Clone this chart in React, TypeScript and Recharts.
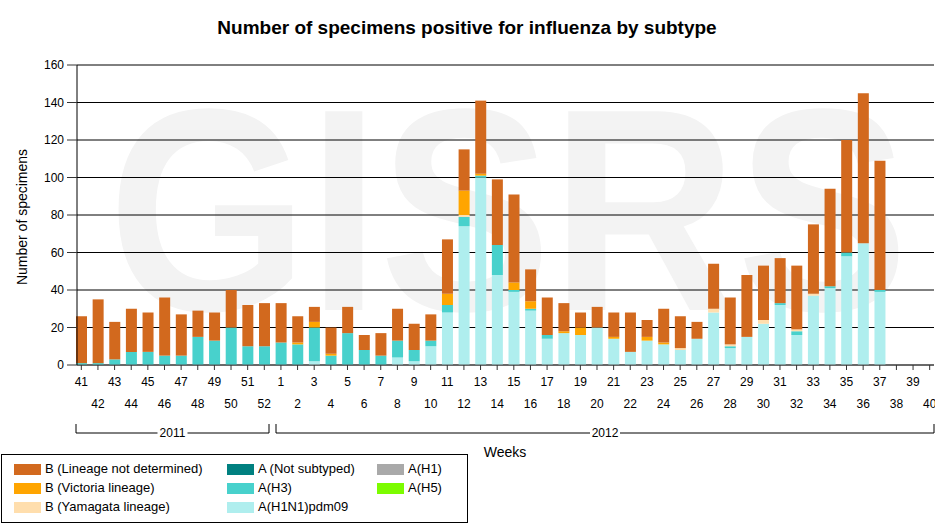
import { BarChart, Bar, XAxis, YAxis, CartesianGrid } from 'recharts'

const weeks = [
  '41', '42', '43', '44', '45', '46', '47', '48', '49', '50', '51', '52',
  '1', '2', '3', '4', '5', '6', '7', '8', '9', '10', '11', '12', '13', '14', '15', '16', '17', '18', '19', '20',
  '21', '22', '23', '24', '25', '26', '27', '28', '29', '30', '31', '32', '33', '34', '35', '36', '37', '38', '39', '40',
]

// A(H1N1)pdm09
const pdm09 = [
  0, 0, 0, 0, 0, 0, 0, 0, 0, 0, 0, 0,
  0, 0, 2, 0, 0, 0, 0, 4, 2, 10, 28, 74, 100, 48, 39, 29, 14, 17, 16, 20,
  14, 7, 13, 11, 8, 14, 28, 9, 15, 22, 32, 16, 37, 41, 58, 65, 39, 0, 0, 0,
]
const h3 = [
  1, 1, 3, 7, 7, 5, 5, 15, 13, 20, 10, 10,
  12, 11, 18, 5, 17, 8, 5, 9, 6, 3, 4, 5, 1, 16, 1, 1, 2, 0, 0, 0,
  0, 0, 0, 0, 0, 0, 0, 1, 0, 0, 1, 2, 0, 1, 2, 0, 1, 0, 0, 0,
]
const notSubtyped = weeks.map(() => 0)
const h1 = weeks.map(() => 0)
const h5 = weeks.map(() => 0)
const yamagata = [
  0, 0, 0, 0, 0, 0, 0, 0, 0, 0, 0, 0,
  0, 0, 0, 0, 0, 0, 0, 0, 0, 0, 0, 1, 0, 0, 0, 0, 0, 0, 0, 0,
  0, 0, 0, 0, 1, 0, 2, 1, 0, 2, 0, 1, 1, 0, 0, 0, 0, 0, 0, 0,
]
const victoria = [
  0, 0, 0, 0, 0, 0, 0, 0, 0, 0, 0, 0,
  0, 1, 3, 1, 0, 0, 0, 0, 0, 0, 6, 13, 1, 0, 4, 4, 0, 1, 4, 0,
  1, 0, 2, 1, 0, 0, 0, 0, 0, 0, 0, 0, 0, 0, 0, 0, 0, 0, 0, 0,
]
const bNotDetermined = [
  25, 34, 20, 23, 21, 31, 22, 14, 15, 20, 22, 23,
  21, 14, 8, 14, 14, 8, 12, 17, 14, 14, 29, 22, 39, 35, 47, 17, 20, 15, 8, 11,
  13, 21, 9, 18, 17, 9, 24, 25, 33, 29, 24, 34, 37, 52, 60, 80, 69, 0, 0, 0,
]
const yTicks = [0, 20, 40, 60, 80, 100, 120, 140, 160]

const series = [
  { key: 'pdm09', name: 'A(H1N1)pdm09', values: pdm09, color: '#AFEEEE' },
  { key: 'h3', name: 'A(H3)', values: h3, color: '#48D1CC' },
  { key: 'ns', name: 'A (Not subtyped)', values: notSubtyped, color: '#008080' },
  { key: 'h1', name: 'A(H1)', values: h1, color: '#A9A9A9' },
  { key: 'h5', name: 'A(H5)', values: h5, color: '#7CFC00' },
  { key: 'yam', name: 'B (Yamagata lineage)', values: yamagata, color: '#FFDEAD' },
  { key: 'vic', name: 'B (Victoria lineage)', values: victoria, color: '#FFA500' },
  { key: 'bnd', name: 'B (Lineage not determined)', values: bNotDetermined, color: '#D2691E' },
]

const data = weeks.map((week, i) => {
  const row: Record<string, string | number> = { week }
  series.forEach(s => { row[s.key] = s.values[i]! })
  return row
})

// legend laid out in the same three columns as the original
const legendCols = [
  ['bnd', 'vic', 'yam'],
  ['ns', 'h3', 'pdm09'],
  ['h1', 'h5'],
]
const legendX = [[14, 45], [227, 258], [377, 408]]

const font = '"Liberation Sans", Arial, sans-serif'

function WeekTick({ x, y, payload }: { x?: number; y?: number; payload?: { value: string; index: number } }) {
  const low = (payload?.index ?? 0) % 2 === 1
  return (
    <text x={x} y={(y ?? 0) + (low ? 36 : 14)} textAnchor="middle" fontSize={12} fill="#000" fontFamily={font}>
      {payload?.value}
    </text>
  )
}

function YearBracket({ x1, x2, label }: { x1: number; x2: number; label: string }) {
  const mid = (x1 + x2) / 2
  return (
    <g>
      <path d={`M${x1},424V433H${mid - 15}M${mid + 15},433H${x2}V424`} stroke="#000" fill="none" />
      <text x={mid} y={437} textAnchor="middle" fontSize={12} fontFamily={font} fill="#000">{label}</text>
    </g>
  )
}

export default function App() {
  return (
    <div style={{ position: 'absolute', left: 0, top: 0, width: 935, height: 529, background: '#fff', fontFamily: font, overflow: 'hidden' }}>
      <svg width={935} height={529} style={{ position: 'absolute', left: 0, top: 0 }}>
        <text transform="translate(108,310) scale(0.89,1)" fontSize={289} fontWeight="bold" fontFamily={font} fill="#f3f3f3">
          GISRS
        </text>
      </svg>
      <div style={{ position: 'absolute', left: 0, top: 0 }}>
        <BarChart width={935} height={529} data={data} margin={{ top: 65, right: 1, left: 0, bottom: 114 }} barSize={11}>
          <CartesianGrid vertical={false} stroke="#000" />
          <XAxis
            dataKey="week"
            interval={0}
            height={50}
            tickSize={5}
            tickLine={{ stroke: '#333' }}
            axisLine={{ stroke: '#555' }}
            tick={<WeekTick />}
            padding={{ left: -4, right: -4 }}
          />
          <YAxis
            domain={[0, 160]}
            ticks={yTicks}
            width={77}
            tickSize={10}
            tickMargin={3}
            axisLine={{ stroke: '#000' }}
            tickLine={{ stroke: '#333' }}
            tick={{ fontSize: 12, fill: '#000', fontFamily: font }}
          />
          {series.map(s => (
            <Bar key={s.key} dataKey={s.key} name={s.name} stackId="a" fill={s.color} isAnimationActive={false} />
          ))}
        </BarChart>
      </div>
      <svg width={935} height={529} style={{ position: 'absolute', left: 0, top: 0, pointerEvents: 'none' }}>
        <YearBracket x1={76} x2={269} label="2011" />
        <YearBracket x1={276} x2={934} label="2012" />
        <text x={505} y={457} textAnchor="middle" fontSize={14} fontFamily={font} fill="#000">Weeks</text>
        <text
          x={0}
          y={0}
          transform="translate(27,217) rotate(-90)"
          textAnchor="middle"
          fontSize={14}
          fontFamily={font}
          fill="#000"
        >
          Number of specimens
        </text>
        <text x={467} y={34} textAnchor="middle" fontSize={19} fontWeight="bold" fontFamily={font} fill="#000">
          Number of specimens positive for influenza by subtype
        </text>
      </svg>
      <div style={{ position: 'absolute', left: 1, top: 454, width: 465, height: 67, border: '1px solid #000', background: '#fff' }}>
        {legendCols.map((col, c) =>
          col.map((key, r) => {
            const s = series.find(x => x.key === key)!
            return (
              <div key={key}>
                <div style={{ position: 'absolute', left: legendX[c]![0]! - 2, top: 9 + r * 19, width: 27, height: 11, background: s.color }} />
                <div style={{ position: 'absolute', left: legendX[c]![1]! - 2, top: 6 + r * 19, fontSize: 13, lineHeight: '16px', color: '#000', whiteSpace: 'nowrap' }}>
                  {s.name}
                </div>
              </div>
            )
          }),
        )}
      </div>
    </div>
  )
}
